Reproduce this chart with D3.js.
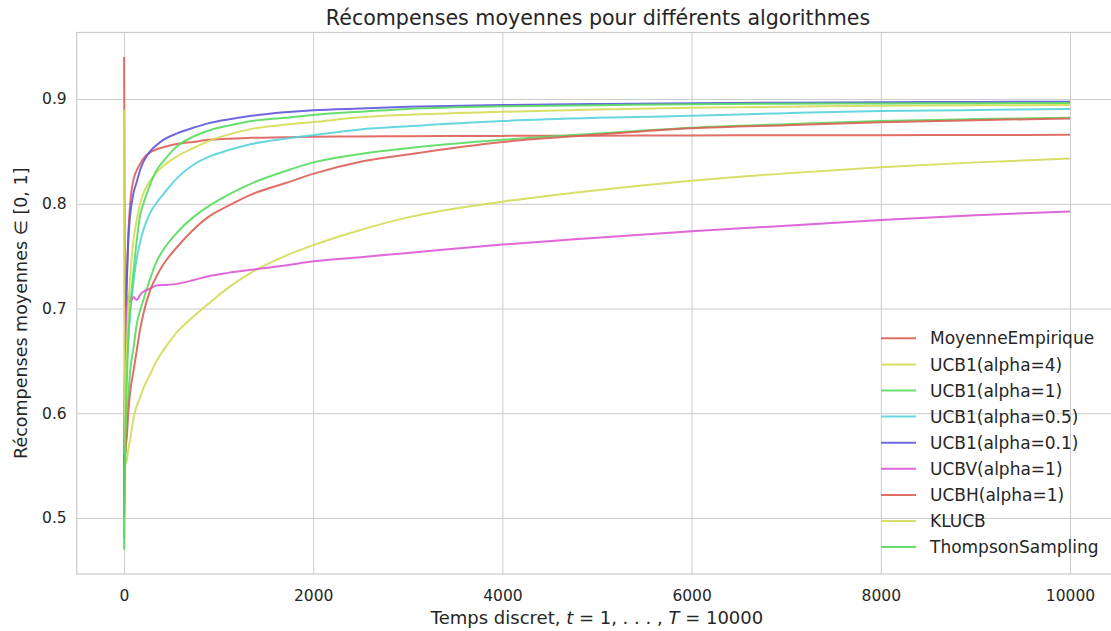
<!DOCTYPE html>
<html>
<head>
<meta charset="utf-8">
<script src="https://cdn.jsdelivr.net/npm/d3@7"></script>
<style>
  html, body { margin: 0; padding: 0; background: #ffffff; }
  svg { display: block; font-family: "DejaVu Sans", sans-serif; }
</style>
</head>
<body>
<svg id="chart" width="1111" height="631"></svg>
<script>
// Time steps at which the average rewards are sampled
const steps = [1, 3, 6, 10, 20, 30, 45, 65, 100, 135, 170, 205, 275, 345, 415, 555, 730, 900, 1100, 1350, 1700, 2000, 2500, 3000, 4000, 5000, 6000, 7000, 8000, 9000, 10000];

// Average reward of each algorithm at those steps
const moyenneEmpirique = [0.94, 0.89, 0.80, 0.72, 0.70, 0.73, 0.77, 0.80, 0.823, 0.832, 0.838, 0.843, 0.849, 0.852, 0.854, 0.857, 0.859, 0.861, 0.862, 0.863, 0.8635, 0.864, 0.8642, 0.8645, 0.8648, 0.865, 0.8652, 0.8654, 0.8655, 0.8656, 0.8658];
const ucb1Alpha4 = [0.50, 0.53, 0.545, 0.55, 0.553, 0.555, 0.565, 0.575, 0.595, 0.607, 0.615, 0.624, 0.637, 0.650, 0.660, 0.677, 0.692, 0.705, 0.7197, 0.7345, 0.750, 0.7605, 0.775, 0.787, 0.802, 0.813, 0.822, 0.829, 0.8348, 0.8395, 0.8431];
const ucb1Alpha1 = [0.48, 0.50, 0.52, 0.54, 0.57, 0.59, 0.615, 0.64, 0.662, 0.685, 0.698, 0.708, 0.728, 0.745, 0.756, 0.772, 0.787, 0.798, 0.8085, 0.8195, 0.831, 0.8395, 0.8475, 0.853, 0.861, 0.867, 0.8726, 0.876, 0.879, 0.8808, 0.8822];
const ucb1Alpha05 = [0.50, 0.53, 0.56, 0.58, 0.62, 0.645, 0.67, 0.695, 0.725, 0.748, 0.763, 0.775, 0.791, 0.801, 0.809, 0.824, 0.837, 0.845, 0.851, 0.857, 0.862, 0.8655, 0.871, 0.874, 0.879, 0.882, 0.884, 0.8865, 0.8885, 0.8895, 0.8904];
const ucb1Alpha01 = [0.55, 0.60, 0.62, 0.65, 0.70, 0.727, 0.765, 0.789, 0.810, 0.821, 0.832, 0.840, 0.850, 0.856, 0.861, 0.867, 0.8725, 0.877, 0.8805, 0.884, 0.8873, 0.8893, 0.891, 0.8925, 0.8943, 0.8952, 0.896, 0.8965, 0.897, 0.8972, 0.8974];
const ucbvAlpha1 = [0.50, 0.55, 0.60, 0.64, 0.68, 0.70, 0.713, 0.706, 0.711, 0.708, 0.713, 0.716, 0.719, 0.722, 0.7225, 0.7235, 0.727, 0.731, 0.734, 0.737, 0.741, 0.745, 0.749, 0.753, 0.761, 0.7675, 0.7737, 0.779, 0.7845, 0.789, 0.7927];
const ucbhAlpha1 = [0.52, 0.55, 0.56, 0.56, 0.57, 0.578, 0.60, 0.62, 0.64, 0.66, 0.68, 0.695, 0.717, 0.731, 0.742, 0.758, 0.775, 0.788, 0.798, 0.809, 0.8195, 0.8285, 0.840, 0.847, 0.859, 0.866, 0.872, 0.875, 0.8777, 0.8798, 0.8815];
const klucb = [0.89, 0.60, 0.56, 0.58, 0.63, 0.66, 0.70, 0.73, 0.765, 0.785, 0.80, 0.81, 0.822, 0.830, 0.836, 0.845, 0.853, 0.860, 0.866, 0.8715, 0.8755, 0.878, 0.8825, 0.885, 0.8878, 0.89, 0.8917, 0.8927, 0.8935, 0.894, 0.8943];
const thompsonSampling = [0.47, 0.50, 0.53, 0.56, 0.60, 0.63, 0.67, 0.70, 0.735, 0.765, 0.789, 0.80, 0.818, 0.832, 0.8405, 0.8545, 0.864, 0.870, 0.8745, 0.879, 0.882, 0.8847, 0.8879, 0.8905, 0.893, 0.894, 0.895, 0.8955, 0.8958, 0.896, 0.8962];

const seriesNames = ["MoyenneEmpirique", "UCB1(alpha=4)", "UCB1(alpha=1)", "UCB1(alpha=0.5)", "UCB1(alpha=0.1)", "UCBV(alpha=1)", "UCBH(alpha=1)", "KLUCB", "ThompsonSampling"];
const seriesValues = [moyenneEmpirique, ucb1Alpha4, ucb1Alpha1, ucb1Alpha05, ucb1Alpha01, ucbvAlpha1, ucbhAlpha1, klucb, thompsonSampling];

const xTicks = [0, 2000, 4000, 6000, 8000, 10000];
const yTicks = [0.5, 0.6, 0.7, 0.8, 0.9];

// Six-hue palette, cycled over the nine curves
const palette = ["#db5f57", "#d3db57", "#57db5e", "#57d3db", "#5e57db", "#db57d3"];

const svg = d3.select("#chart");
const plot = { left: 76.7, right: 1117.3, top: 32.5, bottom: 574 };
const textColor = "#262626";
const gridColor = "#cccccc";

const x = d3.scaleLinear().domain([-500, 10500]).range([plot.left, plot.right]);
const y = d3.scaleLinear().domain([0.4465, 0.9635]).range([plot.bottom, plot.top]);

svg.append("defs").append("clipPath").attr("id", "plot-clip")
  .append("rect")
  .attr("x", plot.left).attr("y", plot.top)
  .attr("width", plot.right - plot.left).attr("height", plot.bottom - plot.top);

// Grid lines
const xAxis = d3.axisBottom(x).tickValues(xTicks).tickSize(-(plot.bottom - plot.top)).tickPadding(12).tickFormat(d3.format("d"));
const yAxis = d3.axisLeft(y).tickValues(yTicks).tickSize(-(plot.right - plot.left)).tickPadding(10).tickFormat(d3.format(".1f"));

const gx = svg.append("g").attr("transform", `translate(0,${plot.bottom})`).call(xAxis);
const gy = svg.append("g").attr("transform", `translate(${plot.left},0)`).call(yAxis);

[gx, gy].forEach(g => {
  g.select(".domain").remove();
  g.selectAll(".tick line").attr("stroke", gridColor).attr("stroke-width", 1);
  g.selectAll(".tick text").attr("fill", textColor).style("font-size", "15.5px").style("font-family", "DejaVu Sans");
});
gx.selectAll(".tick text").attr("dy", "0.95em");

// Frame
svg.append("rect")
  .attr("x", plot.left).attr("y", plot.top)
  .attr("width", plot.right - plot.left).attr("height", plot.bottom - plot.top)
  .attr("fill", "none").attr("stroke", gridColor).attr("stroke-width", 1.25);

// Curves
const line = d3.line()
  .x((d, i) => x(steps[i]))
  .y(d => y(d))
  .curve(d3.curveMonotoneX);

const curves = svg.append("g").attr("clip-path", "url(#plot-clip)");
seriesValues.forEach((vals, k) => {
  curves.append("path")
    .datum(vals)
    .attr("d", line)
    .attr("fill", "none")
    .attr("stroke", palette[k % palette.length])
    .attr("stroke-width", 2)
    .attr("stroke-opacity", 0.9)
    .attr("stroke-linejoin", "round");
});

// Legend
const legend = svg.append("g").attr("transform", "translate(881,338.3)");
seriesNames.forEach((name, k) => {
  const row = legend.append("g").attr("transform", `translate(0,${k * 26.1})`);
  row.append("line").attr("x1", 0).attr("x2", 35).attr("y1", 0).attr("y2", 0)
    .attr("stroke", palette[k % palette.length]).attr("stroke-width", 2).attr("stroke-opacity", 0.9);
  row.append("text").attr("x", 49).attr("y", 0).attr("dy", "0.36em")
    .attr("fill", textColor).style("font-size", "17px").text(name);
});

// Title
svg.append("text")
  .attr("x", (plot.left + plot.right) / 2 + 1).attr("y", 25)
  .attr("text-anchor", "middle").attr("fill", textColor)
  .style("font-size", "20.6px")
  .text("Récompenses moyennes pour différents algorithmes");

// X axis label
const xl = svg.append("text")
  .attr("x", (plot.left + plot.right) / 2).attr("y", 624)
  .attr("text-anchor", "middle").attr("fill", textColor)
  .style("font-size", "18px");
xl.append("tspan").text("Temps discret, ");
xl.append("tspan").style("font-style", "italic").text("t");
xl.append("tspan").text(" = 1, . . . , ");
xl.append("tspan").style("font-style", "italic").text("T");
xl.append("tspan").text(" = 10000");

// Y axis label
svg.append("text")
  .attr("transform", `translate(27,${(plot.top + plot.bottom) / 2 + 10}) rotate(-90)`)
  .attr("text-anchor", "middle").attr("fill", textColor)
  .style("font-size", "17.5px")
  .text("Récompenses moyennes  ∈ [0, 1]");
</script>
</body>
</html>
